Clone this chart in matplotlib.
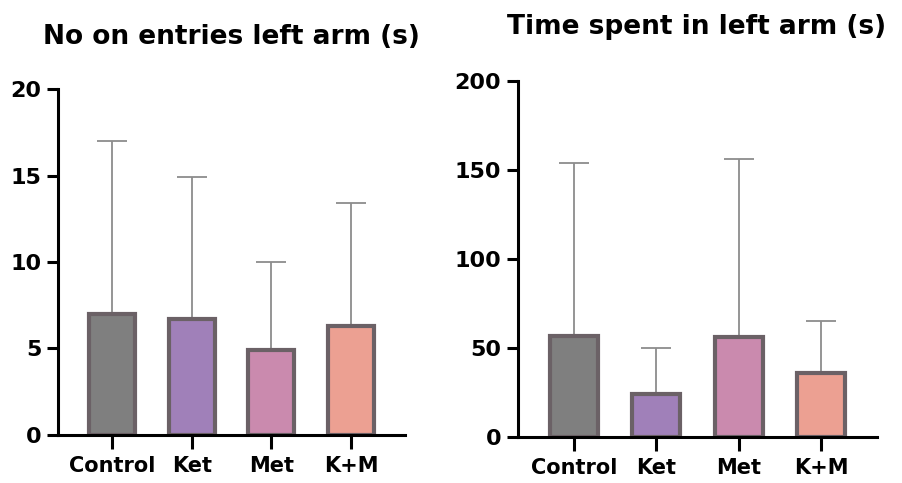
import matplotlib
matplotlib.use("Agg")
import matplotlib.pyplot as plt

categories = ["Control", "Ket", "Met", "K+M"]
entries_mean = [7.0, 6.7, 4.9, 6.3]
entries_err = [10.0, 8.2, 5.1, 7.1]
time_mean = [57, 24, 56, 36]
time_err = [97, 26, 100, 29]
colors = ["#7f7f7f", "#a080b9", "#ca8aae", "#eca092"]
edge = "#6b6166"

plt.rcParams['font.family'] = ['DejaVu Sans']

fig = plt.figure(figsize=(9.02, 4.83), dpi=100)
ax1 = fig.add_axes([0.0643, 0.0994, 0.3847, 0.7163])
ax2 = fig.add_axes([0.5743, 0.0952, 0.3980, 0.7371])

def draw(ax, vals, errs, ymax, yticks, title, title_x, title_y):
    x = list(range(len(categories)))
    ax.bar(x, vals, width=0.58, color=colors, edgecolor=edge, linewidth=3.0, zorder=2)
    ax.errorbar(x, vals, yerr=[[0]*len(errs), errs], fmt='none', ecolor='#8c8c8c',
                elinewidth=1.3, capsize=11, capthick=1.3, zorder=1)
    ax.set_xlim(-0.68, 3.68)
    ax.set_ylim(0, ymax)
    ax.set_yticks(yticks)
    ax.set_xticks(x)
    ax.set_xticklabels(categories)
    for s in ['top', 'right']:
        ax.spines[s].set_visible(False)
    for s in ['left', 'bottom']:
        ax.spines[s].set_linewidth(2.2)
    ax.tick_params(axis='y', length=8, width=2.2, labelsize=16, pad=4)
    ax.tick_params(axis='x', length=10, width=2.2, labelsize=15, pad=5)
    for lab in ax.get_xticklabels() + ax.get_yticklabels():
        lab.set_fontweight('bold')
    fig.text(title_x, title_y, title, ha='center', va='center', fontsize=19, fontweight='bold')

draw(ax1, entries_mean, entries_err, 20, [0, 5, 10, 15, 20], "No on entries left arm (s)", 0.257, 1 - 37/483)
draw(ax2, time_mean, time_err, 200, [0, 50, 100, 150, 200], "Time spent in left arm (s)", 0.772, 1 - 27/483)

fig.savefig("out.png", dpi=100)
